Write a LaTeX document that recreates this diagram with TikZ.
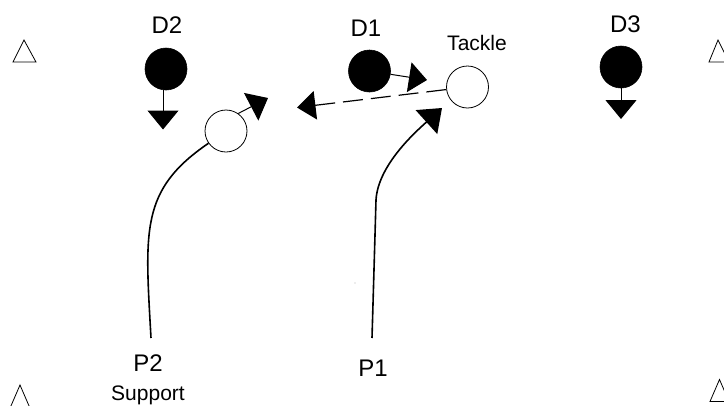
\documentclass[tikz,border=0pt]{standalone}
\usepackage{fontspec}
\setmainfont{Liberation Sans}
\usetikzlibrary{arrows.meta}
\begin{document}
\begin{tikzpicture}[x=1pt,y=-1pt,
  defender/.style={circle,fill=black,draw=black,line width=0.6pt,minimum size=42pt,inner sep=0pt},
  attacker/.style={circle,fill=white,draw=black,line width=0.8pt,minimum size=42pt,inner sep=0pt},
  biglabel/.style={font=\fontsize{24}{27}\selectfont,anchor=base,inner sep=0pt},
  smalllabel/.style={font=\fontsize{21}{24}\selectfont,anchor=base,inner sep=0pt},
  runline/.style={line width=1.6pt,-{Triangle[length=21pt,width=32pt]}},
  moveline/.style={line width=1pt,-{Triangle[length=19pt,width=31pt]}},
  passline/.style={line width=1.2pt,dash pattern=on 20pt off 8pt,-{Triangle[length=18.5pt,width=28.5pt]}},
  cone/.style={draw=black,line width=0.8pt,line join=miter}
]
\clip (0,0) rectangle (724,405);
\useasboundingbox (0,0) rectangle (724,405);

% cone markers
\draw[cone] (24,40) -- (13,62) -- (36,62) -- cycle;
\draw[cone] (718,40) -- (709,62) -- (729,62) -- cycle;
\draw[cone] (20,385) -- (10.5,407) -- (29.5,407) -- cycle;
\draw[cone] (719.5,379.5) -- (710,401.5) -- (729,401.5) -- cycle;

% players
\node[defender] (d2) at (166,69) {};
\node[defender] (d1) at (369.5,71) {};
\node[defender] (d3) at (621,67) {};
\node[attacker] (p2c) at (226,131) {};
\node[attacker] (tk) at (467.5,87) {};

% labels
\node[biglabel] (d2l) at (167,33.5) {D2};
\node[biglabel] (d1l) at (366,36.5) {D1};
\node[biglabel] (d3l) at (625.5,32.5) {D3};
\node[smalllabel] (tkl) at (477,50.5) {Tackle};
\node[biglabel] (p2l) at (148,371.5) {P2};
\node[smalllabel] (supl) at (148,400) {Support};
\node[biglabel] (p1l) at (373,376.5) {P1};

% arrow ends
\coordinate (d2t) at (163,129.5);
\coordinate (d3t) at (621,119);
\coordinate (d1t) at (427,80);
\coordinate (pt) at (297,107.5);
\coordinate (p2t) at (268,98);
\coordinate (p1s) at (372,338);
\coordinate (p1t) at (442,108);
\coordinate (p2s) at (151,338);

% defender movements
\draw[moveline] (d2.south -| d2t) -- (d2t);
\draw[moveline] (d3.south) -- (d3t);
\draw[moveline,-{Triangle[length=18pt,width=30pt]}] (d1) -- (d1t);

% pass
\draw[passline] (tk) -- (pt);

% support run
\draw[moveline] (p2c.55) -- (p2t);
\draw[line width=1.6pt] (p2s) .. controls (145,230) and (140,190) .. (p2c.215);

% P1 run
\draw[runline] (p1s) .. controls (374,270) and (375,235) .. (376,200) .. controls (378,165) and (416,131.5) .. (p1t);

% small speck
\fill[gray!60] (355,283) circle (0.7);
\end{tikzpicture}
\end{document}
